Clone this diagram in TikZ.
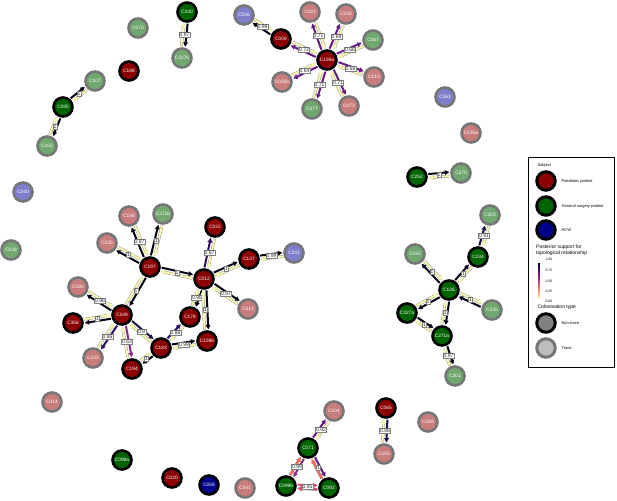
\documentclass[tikz,border=0pt]{standalone}
\usepackage{fontspec}
\setmainfont{Liberation Sans}
\usetikzlibrary{arrows.meta,calc}
\definecolor{pntcol}{RGB}{139,0,0}
\definecolor{ptrcol}{RGB}{200,124,124}
\definecolor{gntcol}{RGB}{0,100,0}
\definecolor{gtrcol}{RGB}{112,168,112}
\definecolor{hntcol}{RGB}{0,0,139}
\definecolor{htrcol}{RGB}{126,126,204}
\definecolor{trcol}{RGB}{118,118,118}
% posterior support colours (magma, reversed)
\definecolor{mgA}{RGB}{0,0,4}
\definecolor{mgB}{RGB}{81,18,124}
\definecolor{mgC}{RGB}{140,41,129}
\definecolor{mgD}{RGB}{183,55,121}
\definecolor{mgE}{RGB}{251,136,97}
\definecolor{mgF}{RGB}{250,248,178}
\definecolor{supA}{RGB}{5,4,20}
\definecolor{supB}{RGB}{28,16,68}
\definecolor{supC}{RGB}{45,17,96}
\definecolor{supD}{RGB}{100,26,128}
\definecolor{supE}{RGB}{140,41,129}
\definecolor{supPink}{RGB}{222,73,104}
\definecolor{supOrng}{RGB}{247,112,92}
\pgfdeclareverticalshading{magmabar}{6pt}{color(0pt)=(mgF); color(10.75pt)=(mgE);
  color(21.5pt)=(mgD); color(32.25pt)=(mgB); color(43pt)=(mgA)}
\newcommand{\subj}[4]{\node[#1] (#2) at (#3,#4) {#2};}
\newcommand{\lnk}[5]{%
  \draw[edgepale, draw=#5] ($(#2)!1.9pt!90:(#1)$) -- ($(#1)!1.9pt!-90:(#2)$);
  \draw[edgedark, draw=#4] ($(#1)!1.9pt!90:(#2)$) -- ($(#2)!1.9pt!-90:(#1)$);
  \path (#1) -- node[suplbl] (l#1#2) {#3} (#2);}

\begin{document}
\begin{tikzpicture}[x=1pt, y=-1pt,
  subject/.style={circle, minimum size=19pt, inner sep=0pt, line width=2.6pt,
    text=white, font=\fontsize{4.8}{5}\selectfont},
  pnt/.style={subject, fill=pntcol, draw=black},
  ptr/.style={subject, fill=ptrcol, draw=trcol},
  gnt/.style={subject, fill=gntcol, draw=black},
  gtr/.style={subject, fill=gtrcol, draw=trcol},
  hnt/.style={subject, fill=hntcol, draw=black},
  htr/.style={subject, fill=htrcol, draw=trcol},
  edgedark/.style={line width=2pt, -{Triangle[length=4.5pt,width=4.5pt]},
    shorten >=11.5pt, shorten <=11.5pt},
  edgepale/.style={line width=2pt, -{Triangle[length=4.5pt,width=4.5pt]},
    shorten >=11.5pt, shorten <=11.5pt, preaction={draw=black!50, line width=2.7pt}},
  suplbl/.style={fill=white, draw=black!50, line width=0.35pt, inner sep=0.7pt,
    font=\fontsize{5}{5}\selectfont, text=black!85},
  legtxt/.style={anchor=west, font=\fontsize{4}{4.5}\selectfont},
  leghead/.style={anchor=west, font=\fontsize{5}{6}\selectfont, align=left},
  legdot/.style={circle, minimum size=18.5pt, inner sep=0pt, line width=3pt}]

\useasboundingbox (0,0) rectangle (617,500);

% ------------------------------------------------------------------
% Subjects
% ------------------------------------------------------------------
\subj{gnt}{C330}{187}{12}
\subj{gtr}{C075}{138}{28}
\subj{gtr}{C327b}{182}{58}
\subj{pnt}{C188}{129}{71}
\subj{gtr}{C107}{95}{81}
\subj{gnt}{C095}{63}{107}
\subj{gtr}{C102}{47}{146}

\subj{htr}{C056}{244}{15}
\subj{ptr}{C021}{310}{12}
\subj{ptr}{C230}{346}{14}
\subj{pnt}{C009}{281}{39}
\subj{pnt}{C159a}{327}{60}
\subj{gtr}{C087}{373}{40}
\subj{ptr}{C010}{374}{77}
\subj{ptr}{C035b}{282}{82}
\subj{gtr}{C077}{312}{109}
\subj{ptr}{C073}{349}{106}

\subj{htr}{C363}{445}{97}
\subj{ptr}{C035a}{471}{133}
\subj{gnt}{C252}{417}{177}
\subj{gtr}{C270}{461}{173}
\subj{gtr}{C303}{490}{215}
\subj{gtr}{C192}{415}{254}
\subj{gnt}{C234}{478}{257}
\subj{gnt}{C126}{449}{290}
\subj{gtr}{C335}{492}{310}
\subj{gnt}{C327a}{407}{313}
\subj{gnt}{C271a}{442}{336}
\subj{gtr}{C301}{455}{376}

\subj{htr}{C040}{23}{192}
\subj{gtr}{C028}{11}{250}
\subj{ptr}{C156}{129}{216}
\subj{gtr}{C271b}{163}{214}
\subj{ptr}{C225}{107}{243}
\subj{pnt}{C197}{150}{267}
\subj{ptr}{C182}{78}{287}
\subj{pnt}{C249}{122}{315}
\subj{pnt}{C358}{73}{323}
\subj{ptr}{C223}{93}{358}
\subj{pnt}{C194}{132}{369}
\subj{pnt}{C183}{161}{348}
\subj{pnt}{C178}{190}{317}
\subj{pnt}{C159b}{207}{341}
\subj{pnt}{C012}{204}{279}
\subj{pnt}{C022}{215}{227}
\subj{pnt}{C137}{249}{259}
\subj{htr}{C241}{294}{253}
\subj{ptr}{C013}{248}{309}

\subj{ptr}{C014}{52}{402}
\subj{gnt}{C099a}{122}{460}
\subj{pnt}{C020}{172}{478}
\subj{hnt}{C059}{209}{485}
\subj{ptr}{C341}{245}{488}
\subj{ptr}{C104}{334}{411}
\subj{gnt}{C071}{308}{448}
\subj{gnt}{C099b}{286}{486}
\subj{gnt}{C092}{329}{488}
\subj{pnt}{C065}{386}{408}
\subj{ptr}{C105}{384}{454}
\subj{ptr}{C069}{428}{422}

% ------------------------------------------------------------------
% Transmission links (from, to, support, colour, reverse colour)
% ------------------------------------------------------------------
\lnk{C330}{C327b}{0.97}{supA}{mgF}
\lnk{C095}{C107}{1}{supA}{mgF}
\lnk{C095}{C102}{1}{supA}{mgF}

\lnk{C009}{C056}{0.99}{supA}{mgF}
\lnk{C159a}{C009}{0.72}{supD}{mgF}
\lnk{C159a}{C021}{0.71}{supD}{mgF}
\lnk{C159a}{C230}{0.69}{supD}{mgF}
\lnk{C159a}{C087}{0.66}{supD}{mgF}
\lnk{C159a}{C010}{0.68}{supD}{mgF}
\lnk{C159a}{C073}{0.71}{supD}{mgF}
\lnk{C159a}{C077}{0.71}{supD}{mgF}
\lnk{C159a}{C035b}{0.64}{supD}{mgF}

\lnk{C252}{C270}{1}{supA}{mgF}
\lnk{C234}{C303}{0.91}{supB}{mgF}
\lnk{C126}{C192}{1}{supA}{mgF}
\lnk{C126}{C234}{1}{supA}{mgF}
\lnk{C335}{C126}{1}{supA}{mgF}
\lnk{C126}{C327a}{1}{supA}{mgF}
\lnk{C126}{C271a}{1}{supA}{mgF}
\lnk{C327a}{C271a}{1}{supA}{mgF}
\lnk{C271a}{C301}{0.97}{supA}{mgF}

\lnk{C197}{C156}{0.97}{supA}{mgF}
\lnk{C197}{C271b}{1}{supA}{mgF}
\lnk{C197}{C225}{1}{supA}{mgF}
\lnk{C197}{C012}{1}{supA}{mgF}
\lnk{C197}{C249}{1}{supA}{mgF}
\lnk{C249}{C182}{0.96}{supA}{mgF}
\lnk{C249}{C358}{1}{supA}{mgF}
\lnk{C249}{C223}{0.86}{supC}{mgF}
\lnk{C249}{C194}{0.63}{supE}{mgF}
\lnk{C249}{C183}{0.9}{supB}{mgF}
\lnk{C183}{C194}{1}{supA}{mgF}
\lnk{C183}{C178}{0.86}{supC}{mgF}
\lnk{C183}{C159b}{0.99}{supA}{mgF}
\lnk{C012}{C178}{0.98}{supA}{mgF}
\lnk{C012}{C159b}{1}{supA}{mgF}
\lnk{C012}{C022}{0.87}{supC}{mgF}
\lnk{C012}{C137}{1}{supA}{mgF}
\lnk{C137}{C241}{0.99}{supA}{mgF}
\lnk{C012}{C013}{0.97}{supA}{mgF}

\lnk{C071}{C104}{0.92}{supD}{mgF}
\lnk{C071}{C099b}{0.99}{supE}{supOrng}
\lnk{C071}{C092}{1}{supD}{supOrng}
\lnk{C099b}{C092}{0.95}{supPink}{supPink}
\lnk{C065}{C105}{0.86}{supB}{mgF}

% ------------------------------------------------------------------
% Legend
% ------------------------------------------------------------------
\draw[black, line width=0.8pt] (528,157) rectangle (614,367);
\node[legtxt] (hsubj) at (534,165) {Subject};
\node[legdot, fill=pntcol, draw=black] (kpnt) at (546,181) {};
\node[legtxt] (tpnt) at (558,181) {Paediatric patient};
\node[legdot, fill=gntcol, draw=black] (kgnt) at (546,206) {};
\node[legtxt] (tgnt) at (558,206) {General surgery patient};
\node[legdot, fill=hntcol, draw=black] (khnt) at (546,230) {};
\node[legtxt] (thnt) at (558,230) {HCW};

\node[leghead, anchor=north west, inner sep=0pt] (hsup) at (536,245)
  {Posterior support for\\topological relationship};
\shade[shading=magmabar] (536,259) rectangle (542,302);
\foreach \v/\yy in {1.00/259, 0.75/270, 0.50/281, 0.25/291, 0.00/301}
  \node[legtxt, font=\fontsize{3.4}{4}\selectfont] at (542,\yy) {\v};

\node[leghead] (hcol) at (534,307) {Colonisation type};
\node[legdot, fill=black!50, draw=black] (knon) at (546,323) {};
\node[legtxt] (tnon) at (558,323) {Non-trace};
\node[legdot, fill=black!26, draw=trcol] (ktr) at (546,348) {};
\node[legtxt] (ttr) at (558,348) {Trace};

\end{tikzpicture}
\end{document}
